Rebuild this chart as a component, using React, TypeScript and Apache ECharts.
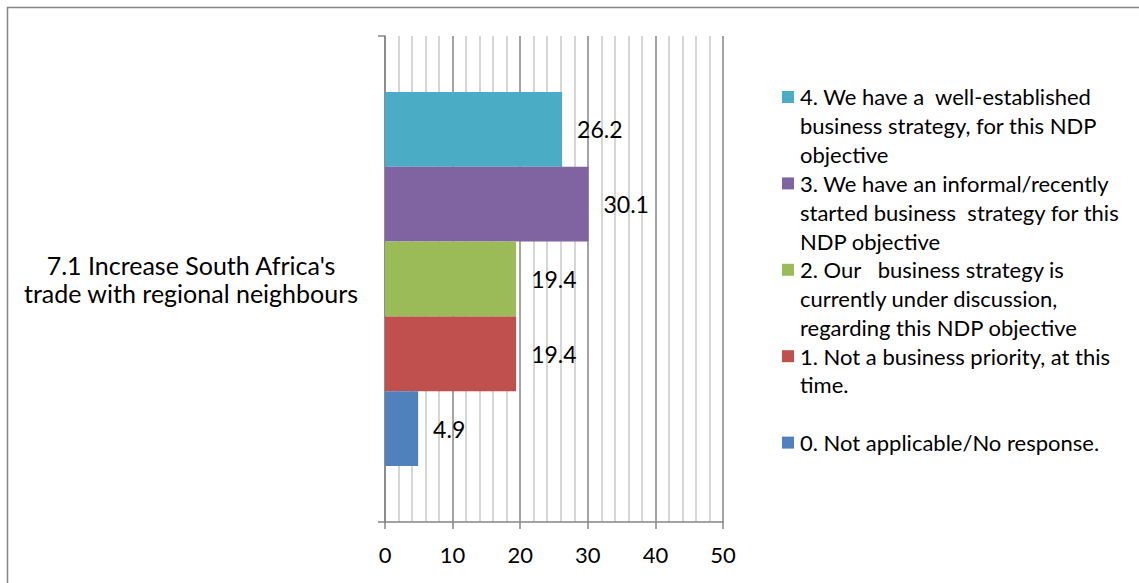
import React, { useEffect, useRef } from "react";
import * as echarts from "echarts";

// Survey question shown on the category axis
const categories = ["7.1 Increase South Africa's\ntrade with regional neighbours"];

// Response levels, from the bottom bar upwards
const seriesNames = [
  "0. Not applicable/No response.",
  "1. Not a business priority, at this\ntime.",
  "2. Our   business strategy is\ncurrently under discussion,\nregarding this NDP objective",
  "3. We have an informal/recently\nstarted business  strategy for this\nNDP objective",
  "4. We have a  well-established\nbusiness strategy, for this NDP\nobjective",
];
const seriesValues = [4.9, 19.4, 19.4, 30.1, 26.2];
const seriesColors = ["#4F81BD", "#C0504D", "#9BBB59", "#8064A2", "#4BACC6"];

// Percentage axis
const axisMin = 0;
const axisMax = 50;
const axisInterval = 10;

const FONT = "Lato, 'Open Sans', sans-serif";

export default function App() {
  const ref = useRef<HTMLDivElement>(null);

  useEffect(() => {
    if (!ref.current) return;
    const chart = echarts.init(ref.current, undefined, { renderer: "svg" });

    // Top-to-bottom order: highest level first (used for bars and legend)
    const topDown = seriesNames.map((_, i) => i).reverse();

    // Legend drawn as wrapped entries, one 3-line slot each
    const lineH = 28.8;
    const slotLines = Math.max(...seriesNames.map((n) => n.split("\n").length));
    const legendTop = 97;
    const legendItems: any[] = [];
    topDown.forEach((si, k) => {
      const cy = legendTop + k * slotLines * lineH;
      legendItems.push({
        type: "rect",
        shape: { x: 782, y: cy - 6, width: 12, height: 12 },
        style: { fill: seriesColors[si] },
        silent: true,
      });
      legendItems.push({
        type: "text",
        x: 800,
        y: cy - lineH / 2,
        style: {
          text: seriesNames[si],
          font: `22px ${FONT}`,
          fill: "#000",
          lineHeight: lineH,
          verticalAlign: "top",
          align: "left",
        },
        silent: true,
      });
    });

    chart.setOption({
      animation: false,
      textStyle: { fontFamily: FONT },
      grid: { left: 385, right: 416, top: 36, bottom: 61, containLabel: false },
      xAxis: {
        type: "value",
        min: axisMin,
        max: axisMax,
        interval: axisInterval,
        axisLine: { show: true, lineStyle: { color: "#868686", width: 1.5 } },
        axisTick: { show: true, length: 7, lineStyle: { color: "#868686", width: 1.5 } },
        axisLabel: { color: "#000", fontSize: 22, margin: 21, fontFamily: FONT },
        splitLine: { show: true, lineStyle: { color: "#868686", width: 1.5 } },
        minorTick: { show: false, splitNumber: 5 },
        minorSplitLine: { show: true, lineStyle: { color: "#C8C8C8", width: 1.5 } },
      },
      yAxis: {
        type: "category",
        data: categories,
        axisLine: { show: true, lineStyle: { color: "#868686", width: 1.5 } },
        axisTick: { show: true, length: 7, lineStyle: { color: "#868686", width: 1.5 } },
        axisLabel: {
          color: "#000",
          fontSize: 25,
          lineHeight: 28,
          align: "center",
          margin: 194,
          fontFamily: FONT,
        },
        splitLine: { show: false },
      },
      series: topDown.map((i) => ({
        type: "bar",
        name: seriesNames[i],
        data: [seriesValues[i]],
        itemStyle: { color: seriesColors[i] },
        barGap: "0%",
        barCategoryGap: "23%",
        label: {
          show: true,
          position: "right",
          distance: 15,
          color: "#000",
          fontSize: 23,
          fontFamily: FONT,
        },
      })),
      graphic: [
        {
          type: "rect",
          shape: { x: 7.5, y: 7.5, width: 1300, height: 800 },
          style: { fill: "none", stroke: "#868686", lineWidth: 1.5 },
          silent: true,
          z: -10,
        },
        ...legendItems,
      ],
    });

    return () => chart.dispose();
  }, []);

  return (
    <div
      ref={ref}
      style={{ position: "absolute", left: 0, top: 0, width: 1139, height: 583, background: "#fff" }}
    />
  );
}
